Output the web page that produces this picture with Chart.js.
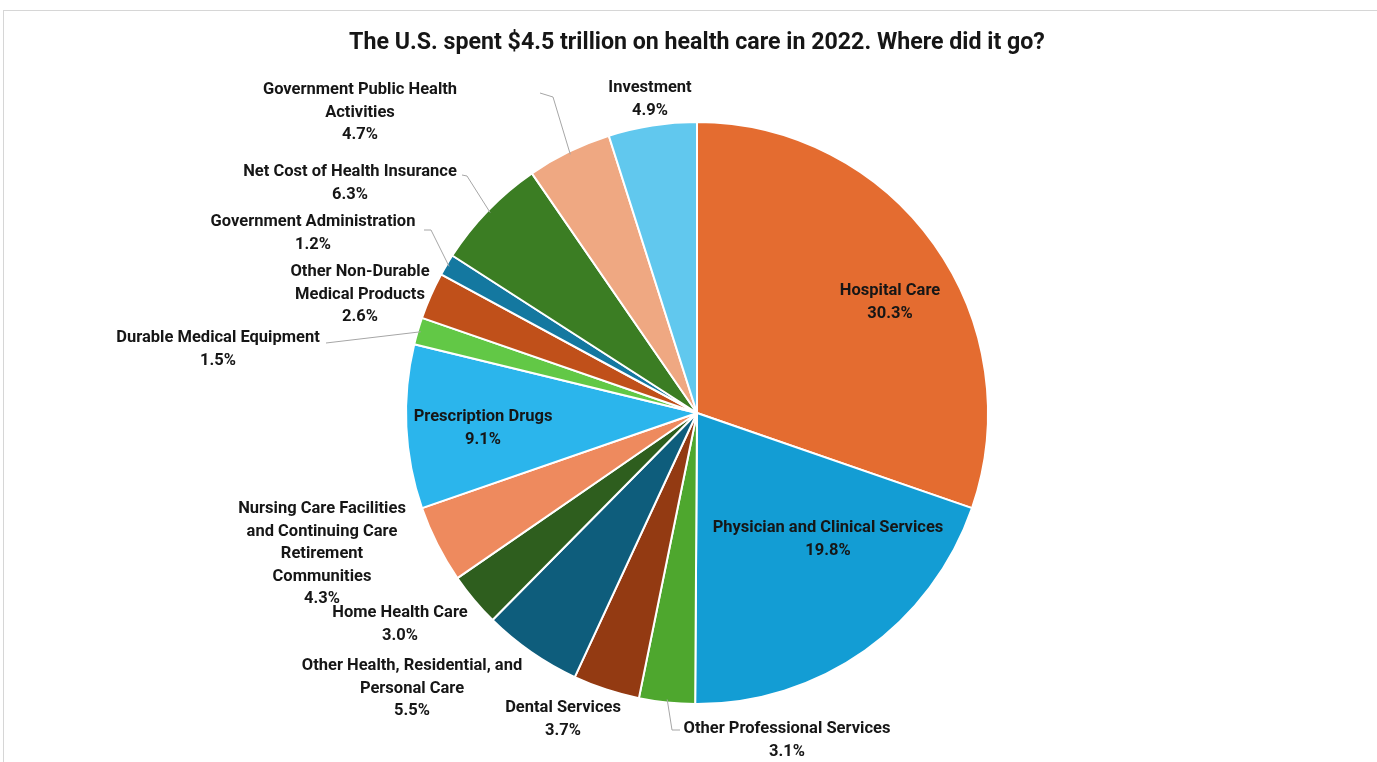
<!DOCTYPE html>
<html>
<head>
<meta charset="utf-8">
<script src="https://cdn.jsdelivr.net/npm/chart.js@4.4.1/dist/chart.umd.min.js"></script>
<style>
  html, body { margin: 0; padding: 0; background: #ffffff; }
  #wrap { position: relative; width: 1377px; height: 762px; }
  #frame { position: absolute; left: 3px; top: 10px; right: 0; bottom: 0; border-top: 1px solid #d6d6d6; border-left: 1px solid #d6d6d6; }
  canvas { position: absolute; left: 0; top: 0; }
</style>
</head>
<body>
<div id="wrap">
  <div id="frame"></div>
  <canvas id="c" width="1377" height="762"></canvas>
</div>
<script>
const title = "The U.S. spent $4.5 trillion on health care in 2022. Where did it go?";

const categories = [
  "Hospital Care",
  "Physician and Clinical Services",
  "Other Professional Services",
  "Dental Services",
  "Other Health, Residential, and Personal Care",
  "Home Health Care",
  "Nursing Care Facilities and Continuing Care Retirement Communities",
  "Prescription Drugs",
  "Durable Medical Equipment",
  "Other Non-Durable Medical Products",
  "Government Administration",
  "Net Cost of Health Insurance",
  "Government Public Health Activities",
  "Investment"
];

const shares = [30.3, 19.8, 3.1, 3.7, 5.5, 3.0, 4.3, 9.1, 1.5, 2.6, 1.2, 6.3, 4.7, 4.9];

const colors = [
  "#E46C30", "#139DD4", "#4EA72E", "#933A12", "#0E5D7C", "#2E5E1E", "#EE8A5E",
  "#2BB5EC", "#62C846", "#C0501A", "#1478A0", "#3B7D23", "#EFA882", "#61C8EE"
];

// label text lines (wrapping as in the reference)
const labelLines = [
  ["Hospital Care"],
  ["Physician and Clinical Services"],
  ["Other Professional Services"],
  ["Dental Services"],
  ["Other Health, Residential, and", "Personal Care"],
  ["Home Health Care"],
  ["Nursing Care Facilities", "and Continuing Care", "Retirement", "Communities"],
  ["Prescription Drugs"],
  ["Durable Medical Equipment"],
  ["Other Non-Durable", "Medical Products"],
  ["Government Administration"],
  ["Net Cost of Health Insurance"],
  ["Government Public Health", "Activities"],
  ["Investment"]
];

// label layout: centre x, first-line y, and optional leader elbow points
const labelPos = [
  {x: 890, y: 291},
  {x: 828, y: 528},
  {x: 787, y: 729, lead: [[680, 730], [672, 730]]},
  {x: 563, y: 708},
  {x: 412, y: 666},
  {x: 400, y: 613},
  {x: 322, y: 509},
  {x: 483, y: 417},
  {x: 218, y: 338, lead: [[326, 343]]},
  {x: 360, y: 272},
  {x: 313, y: 222, lead: [[424, 230], [431, 230]]},
  {x: 350, y: 172, lead: [[462, 175], [467, 176]]},
  {x: 360, y: 90, lead: [[540, 93], [553, 97]]},
  {x: 650, y: 88}
];

const FONT = '"Liberation Sans Narrow", "Arial Narrow", "Roboto", sans-serif';
const lineH = 22.5;

const labelPlugin = {
  id: 'pieLabels',
  afterDatasetsDraw(chart) {
    const ctx = chart.ctx;
    const meta = chart.getDatasetMeta(0);
    ctx.save();
    // title
    ctx.fillStyle = '#161616';
    ctx.font = 'bold 23.2px ' + FONT;
    ctx.textAlign = 'center';
    ctx.textBaseline = 'middle';
    ctx.fillText(title, 697, 43);

    meta.data.forEach((arc, i) => {
      const p = labelPos[i];
      // leader line
      if (p.lead) {
        const mid = (arc.startAngle + arc.endAngle) / 2;
        const r = arc.outerRadius - 3;
        const sx = arc.x + Math.cos(mid) * r;
        const sy = arc.y + Math.sin(mid) * r;
        ctx.strokeStyle = '#a6a6a6';
        ctx.lineWidth = 1;
        ctx.beginPath();
        ctx.moveTo(p.lead[0][0], p.lead[0][1]);
        for (let k = 1; k < p.lead.length; k++) ctx.lineTo(p.lead[k][0], p.lead[k][1]);
        ctx.lineTo(sx, sy);
        ctx.stroke();
      }
      ctx.fillStyle = '#161616';
      ctx.font = 'bold 16.5px ' + FONT;
      const lines = labelLines[i].concat([shares[i].toFixed(1) + '%']);
      lines.forEach((t, k) => ctx.fillText(t, p.x, p.y + k * lineH));
    });
    ctx.restore();
  }
};

new Chart(document.getElementById('c'), {
  type: 'pie',
  data: {
    labels: categories,
    datasets: [{
      data: shares,
      backgroundColor: colors,
      borderColor: '#ffffff',
      borderWidth: 2
    }]
  },
  options: {
    responsive: false,
    animation: false,
    layout: { padding: { top: 121, bottom: 57, left: 100, right: 83 } },
    plugins: {
      legend: { display: false },
      tooltip: { enabled: false },
      title: { display: false }
    }
  },
  plugins: [labelPlugin]
});
</script>
</body>
</html>
